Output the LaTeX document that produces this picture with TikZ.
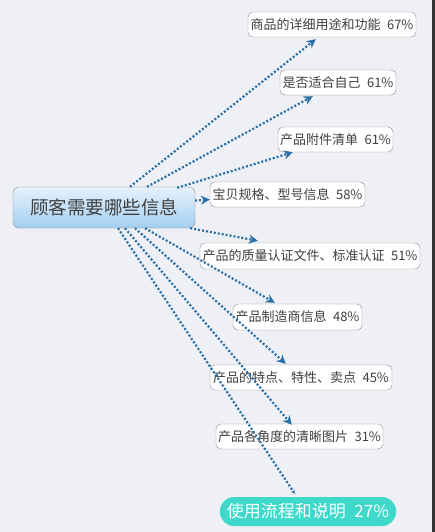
\documentclass[tikz,border=0pt]{standalone}
\usepackage{fontspec}
\usepackage{tikz}
\usetikzlibrary{arrows.meta}
\newfontfamily\cjk{Noto Sans CJK SC}
\definecolor{bgcol}{HTML}{EEF0F5}
\definecolor{linkcol}{HTML}{2A6FA8}
\definecolor{tealcol}{HTML}{3FD9CC}
\definecolor{hubtop}{HTML}{E6F2FC}
\definecolor{hubbot}{HTML}{A3CEF0}

\begin{document}
\begin{tikzpicture}[x=1pt, y=-1pt,
    hubbox/.style={draw=black!45, rounded corners=6pt, top color=hubtop, bottom color=hubbot,
        minimum width=182pt, minimum height=41pt, inner sep=0pt,
        font=\cjk\fontsize{18.5}{20}\selectfont, text=black!75},
    infobox/.style={draw=black!45, fill=white, rounded corners=5pt,
        minimum height=25pt, inner sep=0pt,
        font=\cjk\fontsize{13}{14}\selectfont, text=black!75},
    link/.style={linkcol, line width=2.2pt, dash pattern=on 2pt off 2pt,
        -{Stealth[length=9pt, width=9pt]}}]
    \useasboundingbox (0,0) rectangle (435,532);
    \fill[bgcol] (0,0) rectangle (435,532);
    \fill[black!80] (432,0) rectangle (435,532);

    \node[hubbox]
        (hub) at (104,207.5) {顾客需要哪些信息};

    \node[infobox, minimum width=168pt]
        (func) at (332,24.5) {商品的详细用途和功能\enspace 67\%};

    \node[infobox, minimum width=116pt]
        (fit) at (338,82.5) {是否适合自己\enspace 61\%};

    \node[infobox, minimum width=115pt]
        (parts) at (335.5,139.5) {产品附件清单\enspace 61\%};

    \node[infobox, minimum width=155pt]
        (spec) at (287.5,194.5) {宝贝规格、型号信息\enspace 58\%};

    \node[infobox, minimum width=220pt, minimum height=26pt]
        (cert) at (310,256) {产品的质量认证文件、标准认证\enspace 51\%};

    \node[infobox, minimum width=129pt, minimum height=26pt]
        (maker) at (297.5,317) {产品制造商信息\enspace 48\%};

    \node[infobox, minimum width=182pt]
        (feature) at (301,377.5) {产品的特点、特性、卖点\enspace 45\%};

    \node[infobox, minimum width=167pt]
        (photo) at (299.5,436.5) {产品各角度的清晰图片\enspace 31\%};

    \node[fill=tealcol, rounded corners=14pt, minimum width=176pt, minimum height=29pt,
        inner sep=0pt, text=white, font=\cjk\fontsize{17}{18}\selectfont]
        (guide) at (308,511.5) {使用流程和说明\enspace 27\%};

    \draw[link] ([xshift=26pt]hub.north) -- ([xshift=68pt, yshift=-2pt]func.south west);
    \draw[link] ([xshift=43pt]hub.north) -- ([xshift=33pt, yshift=-1pt]fit.south west);
    \draw[link] ([xshift=-18pt, yshift=-1pt]hub.north east) -- ([xshift=15pt]parts.south west);
    \draw[link] ([yshift=7pt]hub.east) -- ([yshift=-5pt]spec.west);
    \draw[link] ([xshift=-5pt]hub.south east) -- ([xshift=58pt, yshift=2pt]cert.north west);
    \draw[link] ([xshift=41pt]hub.south) -- ([xshift=42pt, yshift=1pt]maker.north west);
    \draw[link] ([xshift=31pt]hub.south) -- ([xshift=76pt, yshift=1pt]feature.north west);
    \draw[link] ([xshift=21pt]hub.south) -- ([xshift=76pt, yshift=-1pt]photo.north west);
    \draw[link, -{Stealth[length=4pt, width=4pt]}] ([xshift=14pt]hub.south) -- ([xshift=75pt, yshift=3pt]guide.north west);
\end{tikzpicture}
\end{document}
